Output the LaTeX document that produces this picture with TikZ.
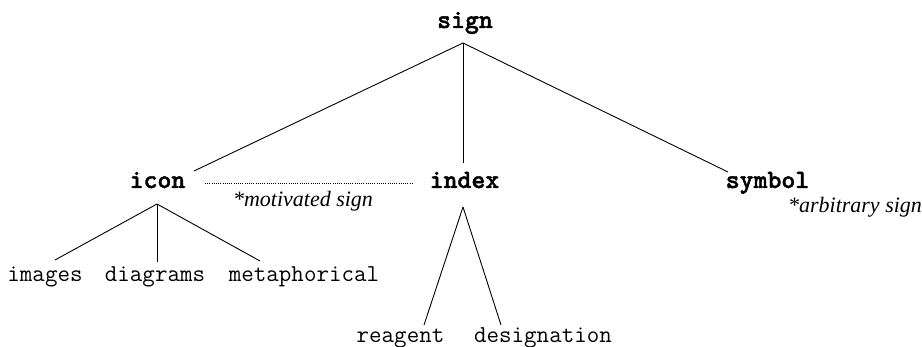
\documentclass[tikz,border=0pt]{standalone}
\usepackage{fontspec}
\setmainfont{Liberation Serif}
\newfontfamily\heavymono{lmmonolt10-bold.otf}[FakeBold=1.6]
\begin{document}
\begin{tikzpicture}[x=1pt,y=-1pt,
  main/.style={anchor=base,inner sep=0pt,font=\fontsize{26.5}{29}\selectfont\heavymono},
  leaf/.style={anchor=base,inner sep=0pt,font=\fontsize{24.3}{27}\selectfont\ttfamily},
  note/.style={anchor=base,inner sep=0pt,font=\fontsize{22}{25}\selectfont\itshape},
  edge/.style={line width=0.9pt,black},
  dots/.style={line width=0.8pt,dash pattern=on 0.8pt off 1.4pt}]
\useasboundingbox (0,0) rectangle (922,347);
\node[main] (sign) at (465,28) {sign};
\node[main] (icon) at (157.5,188) {icon};
\node[main] (index) at (464.5,188) {index};
\node[main] (symbol) at (767.5,188) {symbol};
\node[note] (motiv) at (303,207) {*motivated sign};
\node[note] (arbit) at (855,213) {*arbitrary sign};
\node[leaf] (images) at (45,282) {images};
\node[leaf] (diagrams) at (155,282) {diagrams};
\node[leaf] (metaph) at (304,282) {metaphorical};
\node[leaf] (reagent) at (400.5,343) {reagent};
\node[leaf] (design) at (543,343) {designation};
% sign branches
\draw[edge] ([shift={(-2,15)}]sign.base) -- ([shift={(36.5,-17)}]icon.base);
\draw[edge] ([shift={(-2,15)}]sign.base) -- ([shift={(-1.5,-25)}]index.base);
\draw[edge] ([shift={(-2,15)}]sign.base) -- ([shift={(-39.5,-16)}]symbol.base);
% dotted link
\draw[dots] ([shift={(47.5,-5)}]icon.base) -- ([shift={(-52.5,-5)}]index.base);
% icon branches
\draw[edge] ([shift={(-0.5,16)}]icon.base) -- ([shift={(10,-22)}]images.base);
\draw[edge] ([shift={(-0.5,16)}]icon.base) -- ([shift={(2,-20)}]diagrams.base);
\draw[edge] ([shift={(-0.5,16)}]icon.base) -- ([shift={(-44,-21)}]metaph.base);
% index branches
\draw[edge] ([shift={(-1.5,19)}]index.base) -- ([shift={(23.5,-18)}]reagent.base);
\draw[edge] ([shift={(-1.5,19)}]index.base) -- ([shift={(-42,-18)}]design.base);
\end{tikzpicture}
\end{document}
